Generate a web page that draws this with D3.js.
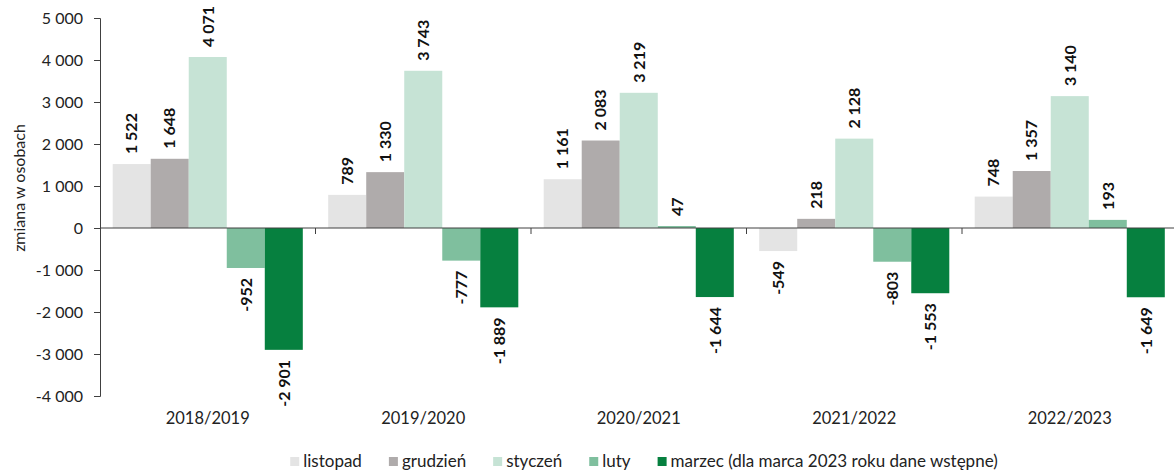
<!DOCTYPE html>
<html><head><meta charset="utf-8">
<script src="https://cdn.jsdelivr.net/npm/d3@7"></script>
<style>
body{margin:0;background:#fff;}
svg{display:block;font-family:Lato, "Open Sans", sans-serif;}
</style></head>
<body><svg id="chart" width="1174" height="473"></svg>
<script>
const categories = ["2018/2019","2019/2020","2020/2021","2021/2022","2022/2023"];
const seriesNames = ["listopad","grudzień","styczeń","luty","marzec (dla marca 2023 roku dane wstępne)"];
const listopad = [1522, 789, 1161, -549, 748];
const grudzien = [1648, 1330, 2083, 218, 1357];
const styczen  = [4071, 3743, 3219, 2128, 3140];
const luty     = [-952, -777, 47, -803, 193];
const marzec   = [-2901, -1889, -1644, -1553, -1649];
const yTicks = [-4000,-3000,-2000,-1000,0,1000,2000,3000,4000,5000];
const colors = ["#e4e4e4","#afabab","#c6e3d5","#7fbf9e","#06803f"];
const yTitle = "zmiana w osobach";

const series = [listopad, grudzien, styczen, luty, marzec];
const svg = d3.select("#chart");
const loc = d3.formatLocale({decimal:",", thousands:"\u00a0", grouping:[3], currency:["",""], minus:"-"});
const fmt = loc.format(",d");

const x0 = d3.scaleBand().domain(categories).range([100, 1177.5]).paddingInner(0).paddingOuter(0);
const x1 = d3.scaleBand().domain(d3.range(seriesNames.length)).range([12.7, x0.bandwidth()-12.7]).padding(0);
const y = d3.scaleLinear().domain([-4000, 5000]).range([396, 18]);

// bars
categories.forEach((c, ci) => {
  const g = svg.append("g").attr("transform", `translate(${x0(c)},0)`);
  series.forEach((s, si) => {
    const v = s[ci];
    g.append("rect")
      .attr("x", x1(si)).attr("width", x1.bandwidth())
      .attr("y", y(Math.max(0, v))).attr("height", Math.abs(y(v) - y(0)))
      .attr("fill", colors[si]);
  });
  series.forEach((s, si) => {
    const v = s[ci];
    const cx = x1(si) + x1.bandwidth()/2;
    const yy = v >= 0 ? y(v) - 10 : y(v) + 10;
    g.append("text")
      .attr("transform", `translate(${cx},${yy}) rotate(-90)`)
      .attr("text-anchor", v >= 0 ? "start" : "end")
      .attr("dy", "0.36em")
      .attr("font-size", 16).attr("font-weight", "bold").attr("fill", "#111")
      .text(fmt(v));
  });
});

// y axis
const yAxis = d3.axisLeft(y).tickValues(yTicks).tickSize(6).tickPadding(11).tickFormat(fmt);
const ga = svg.append("g").attr("transform", "translate(100,0)").call(yAxis);
ga.select(".domain").attr("stroke", "#404040");
ga.selectAll(".tick line").attr("stroke", "#404040");
ga.selectAll(".tick text").attr("font-size", 16).attr("fill", "#222").attr("font-family", "Lato, sans-serif");

// zero line
svg.append("line").attr("x1", 100).attr("x2", 1174).attr("y1", y(0)).attr("y2", y(0))
  .attr("stroke", "#404040").attr("stroke-width", 1);
// category boundary ticks
categories.slice(1).forEach(c => {
  svg.append("line").attr("x1", x0(c)).attr("x2", x0(c)).attr("y1", y(0)).attr("y2", y(0)+6)
    .attr("stroke", "#404040");
});
// category labels
categories.forEach(c => {
  svg.append("text").attr("x", x0(c) + x0.bandwidth()/2).attr("y", 424)
    .attr("text-anchor", "middle").attr("font-size", 16.5).attr("fill", "#222").text(c);
});

// y title
svg.append("text").attr("transform", "translate(19,188) rotate(-90)")
  .attr("text-anchor", "middle").attr("dy", "0.35em").attr("font-size", 16).attr("fill", "#222").text(yTitle);

// legend
const lg = svg.append("g");
let lx = 0;
seriesNames.forEach((n, i) => {
  const it = lg.append("g").attr("transform", `translate(${lx},0)`);
  it.append("rect").attr("x", 0).attr("y", -4).attr("width", 9).attr("height", 9).attr("fill", colors[i]);
  const t = it.append("text").attr("x", 13).attr("y", 0).attr("dy", "0.35em")
    .attr("font-size", 17).attr("fill", "#222").text(n);
  const w = t.node().getComputedTextLength();
  lx += 13 + w + 27;
});
const total = lx - 27;
lg.attr("transform", `translate(${644 - total/2},461)`);
</script></body></html>
